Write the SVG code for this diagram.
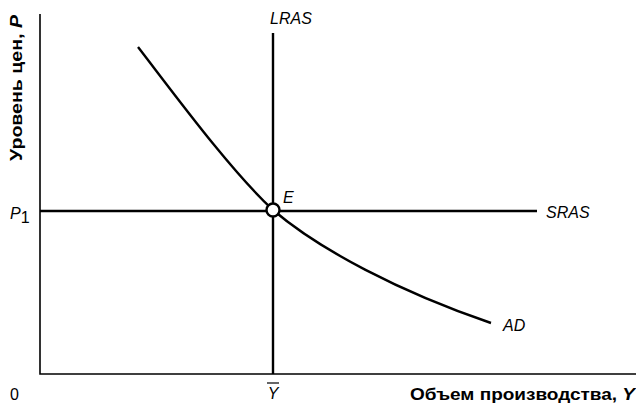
<svg xmlns="http://www.w3.org/2000/svg" width="636" height="403" viewBox="0 0 636 403">
<style>
.ax{stroke:#000;stroke-width:1.6;fill:none}
.ln{stroke:#000;stroke-width:2.4;fill:none}
.lb{font-family:"Liberation Sans",Arial,sans-serif;font-size:16px;font-style:italic;fill:#000}
.tk{font-family:"Liberation Sans",Arial,sans-serif;font-size:16px;fill:#000}
.tt{font-family:"Liberation Sans",Arial,sans-serif;font-size:16px;font-weight:bold;fill:#000}
</style>
<rect width="636" height="403" fill="#fff"/>
<g id="axes">
<path class="ax" d="M40 14 V374 H636"/>
<text class="tk" x="10" y="400">0</text>
<text class="tt" transform="translate(22,161) rotate(-90)" textLength="146" lengthAdjust="spacingAndGlyphs">Уровень цен, <tspan font-style="italic">P</tspan></text>
<text class="tt" x="410" y="400" textLength="225" lengthAdjust="spacingAndGlyphs">Объем производства, <tspan font-style="italic">Y</tspan></text>
<text class="lb" x="10" y="219">P<tspan class="tk" font-style="normal" dy="4">1</tspan></text>
<text class="lb" x="273" y="399" text-anchor="middle">Y</text>
<line x1="267" y1="383" x2="279" y2="383" stroke="#000" stroke-width="1.2"/>
</g>
<g id="connectors">
<line id="lras" class="ln" x1="273" y1="33" x2="273" y2="374"/>
<line id="sras" class="ln" x1="40" y1="211" x2="537" y2="211"/>
<path id="ad" class="ln" d="M138 47 C175 95 230 170 273 210 C320 250 400 292 491 323"/>
</g>
<g id="LRAS"><text class="lb" x="270" y="24">LRAS</text></g>
<g id="SRAS"><text class="lb" x="546" y="218">SRAS</text></g>
<g id="AD"><text class="lb" x="503" y="331">AD</text></g>
<g id="E">
<circle cx="273" cy="210" r="6.5" fill="#fff" stroke="#000" stroke-width="2.4"/>
<text class="lb" x="283" y="203">E</text>
</g>
</svg>
